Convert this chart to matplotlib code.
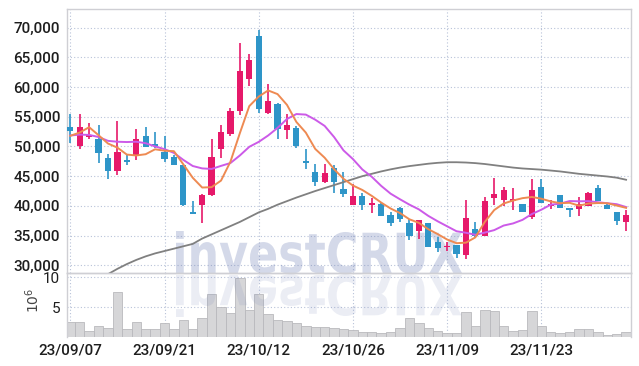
import numpy as np
import matplotlib
matplotlib.use("Agg")
import matplotlib.pyplot as plt
from matplotlib.textpath import TextPath
from matplotlib.patches import PathPatch
from matplotlib.font_manager import FontProperties
from matplotlib.transforms import Affine2D, IdentityTransform
from matplotlib.ticker import FuncFormatter

plt.rcParams["font.family"] = ["Roboto", "DejaVu Sans"]

# trading days 23/09/07 .. 23/12/06 (index axis, holidays skipped)
tick_pos = [0, 10, 20, 30, 40, 50]
tick_labels = ["23/09/07", "23/09/21", "23/10/12", "23/10/26", "23/11/09", "23/11/23"]

opens = [53200, 50050, 51600, 51200, 48000, 45850, 47650, 48600, 51700, 50500,
         49150, 48200, 46800, 39050, 40100, 41900, 49600, 52100, 55900, 61300,
         68600, 55700, 57200, 52850, 53150, 47500, 45700, 43950, 46400, 42850,
         40200, 41650, 40200, 40250, 38450, 39600, 37200, 35750, 37150, 34000,
         33000, 33350, 31650, 36050, 34900, 41350, 40950, 40800, 40350, 38150,
         43250, 39900, 41750, 39650, 39500, 39950, 43050, 40200, 39000, 37300]
highs = [55500, 55450, 54000, 53600, 48700, 54350, 48650, 52900, 53350, 52400,
         51800, 48650, 46900, 40800, 42000, 51250, 53650, 56450, 67350, 65650,
         69600, 60500, 57350, 55500, 53500, 49600, 47000, 47000, 46800, 45700,
         43650, 42100, 41400, 40700, 38900, 39850, 37850, 37600, 37200, 34750,
         33950, 33400, 41050, 37300, 41500, 44750, 43100, 43050, 40400, 44450,
         44450, 41000, 41800, 39700, 41450, 42300, 43500, 40250, 39000, 39300]
lows = [50600, 49650, 51200, 47300, 44600, 45200, 46800, 47750, 49900, 49750,
        47450, 46850, 40050, 38550, 37050, 41650, 48050, 51700, 55300, 60200,
        55600, 55500, 51300, 51200, 49800, 46250, 43350, 43900, 42100, 41450,
        40150, 39300, 38750, 38250, 36600, 37300, 34300, 34400, 33000, 32200,
        32400, 31200, 31000, 34650, 34850, 40100, 39950, 39250, 39000, 37850,
        40450, 39550, 39600, 38200, 38350, 39900, 40750, 39450, 36850, 35800]
closes = [52600, 53200, 51950, 48900, 45850, 49150, 47350, 51200, 49950, 50000,
          47950, 46950, 40100, 38650, 41800, 48250, 52500, 56000, 62700, 64550,
          56250, 57700, 52900, 53650, 50150, 47300, 43950, 45500, 44000, 42050,
          41650, 40200, 40550, 38350, 37050, 37800, 34950, 37550, 33050, 32900,
          33250, 31850, 38000, 34900, 40800, 41950, 42650, 41100, 39050, 42750,
          40500, 40350, 39650, 39350, 40350, 42250, 40800, 39500, 37400, 38400]

ma5 = [51800, 52350, 53250, 51900, 50500, 49810, 48640, 48490, 48700, 49530,
       49290, 49210, 46990, 44730, 43090, 43150, 44260, 47440, 52250, 56800,
       58400, 59440, 58820, 57010, 54130, 52340, 49590, 48110, 46180, 44560,
       43430, 42680, 41690, 40560, 39560, 38790, 37740, 37140, 36080, 35250,
       34340, 33720, 33810, 34700, 37300, 39300, 40400, 40900, 41300, 41500,
       41210, 40750, 40460, 40520, 40040, 40390, 40480, 40450, 40060, 39670]
ma10 = [51850, 52000, 51950, 51600, 50950, 50800, 50750, 50800, 50550, 50015,
        49550, 48925, 47740, 46715, 46310, 46220, 46735, 47215, 48490, 49945,
        50775, 51850, 53130, 54630, 55465, 55370, 54515, 53465, 51595, 49345,
        47885, 46135, 44900, 43370, 42060, 41110, 40210, 39415, 38320, 37405,
        36565, 35730, 35475, 35130, 35505, 35920, 36690, 37045, 37645, 38630,
        39355, 40205, 40370, 40815, 40770, 40800, 40615, 40450, 40285, 39805]
ma_long = [np.nan, np.nan, np.nan, np.nan, 28500, 29400, 30200, 30900, 31500, 32000,
           32400, 32800, 33200, 33600, 34500, 35200, 35900, 36600, 37300, 38100,
           38900, 39500, 40200, 40800, 41400, 41950, 42500, 43000, 43500, 44000,
           44500, 45000, 45400, 45800, 46150, 46450, 46700, 46900, 47100, 47250,
           47350, 47350, 47300, 47200, 47050, 46850, 46650, 46450, 46300, 46200,
           46100, 45950, 45800, 45600, 45400, 45250, 45100, 44950, 44750, 44400]
volume = [2.45, 2.55, 0.95, 1.8, 1.5, 7.45, 1.3, 2.45, 1.3, 1.3,
          2.3, 1.3, 2.8, 1.3, 3.1, 7.1, 4.95, 3.95, 9.8, 4.45,
          7.1, 3.8, 2.8, 2.65, 2.3, 1.8, 1.65, 1.65, 1.5, 1.3,
          1.15, 0.8, 0.8, 0.6, 0.8, 1.5, 3.1, 2.3, 1.5, 1.0,
          0.6, 0.6, 4.2, 1.9, 4.45, 4.3, 1.8, 1.0, 1.15, 4.3,
          1.9, 0.8, 0.6, 0.8, 1.3, 1.3, 0.8, 0.3, 0.45, 0.8]

UP, DOWN = "#e6196a", "#2e95c8"
GRID = "#b8c2d8"
SPINE = "#cfcfd4"
TXT = "#1e1e1e"

idx = np.arange(len(closes))
o, h, l, c = map(np.array, (opens, highs, lows, closes))
cols = np.where(c >= o, UP, DOWN)

fig = plt.figure(figsize=(6.39, 3.66), dpi=100)
W, H = 639, 366
ax = fig.add_axes([67 / W, 1 - 273 / H, (631 - 67) / W, (273 - 9) / H])
axv = fig.add_axes([67 / W, 1 - 337 / H, (631 - 67) / W, (337 - 273) / H], sharex=ax)
axv.set_facecolor("none")

# candles
ax.vlines(idx, l, h, colors=cols, linewidth=1.2, zorder=3)
body = np.maximum(np.abs(c - o), 120)
ax.bar(idx, body, bottom=np.minimum(o, c), width=0.66, color=cols, zorder=4)

ax.plot(idx, ma_long, color="#808080", lw=1.3, zorder=5)
ax.plot(idx, ma10, color="#cc5ae8", lw=1.4, zorder=5)
ax.plot(idx, ma5, color="#ee8a52", lw=1.4, zorder=5)

ax.set_xlim(-0.35, 59.52)
ax.set_ylim(28700, 73150)
ax.set_yticks(range(30000, 70001, 5000))
ax.yaxis.set_major_formatter(FuncFormatter(lambda v, p: f"{int(v):,}"))
ax.tick_params(axis="x", labelbottom=False, length=0)
ax.tick_params(axis="y", length=0, pad=5, labelsize=11, labelcolor=TXT)
for t in ax.get_yticklabels():
    t.set_fontweight("medium")

axv.bar(idx, volume, width=1.0, color="#d6d6d8", edgecolor="#b9b9bd", linewidth=0.6, zorder=2)
axv.set_ylim(0, 10.67)
axv.set_yticks([5, 10])
axv.set_xticks(tick_pos)
axv.set_xticklabels(tick_labels, fontweight="medium")
axv.tick_params(length=0, labelsize=11, labelcolor=TXT)
axv.tick_params(axis="x", pad=5)
axv.tick_params(axis="y", pad=5)

for a in (ax, axv):
    a.grid(True, color=GRID, linestyle=(0, (1, 2)), linewidth=0.8)
    a.set_axisbelow(True)
    for s in a.spines.values():
        s.set_color(SPINE)
        s.set_linewidth(1.0)
axv.spines["bottom"].set_visible(False)

fig.text(33 / W, 1 - 300 / H, r"$10^6$", rotation=90, ha="center", va="center",
         fontsize=10, color="#444444")

# watermark with reflection (display pixel coordinates)
tp = TextPath((0, 0), "investCRUX", size=100,
              prop=FontProperties(family="DejaVu Sans", weight="bold"))
ext = tp.get_extents()
sx = (462 - 176) / ext.width
sy = 42 / ext.y1
base = H - 273
main_tr = Affine2D().translate(-ext.x0, 0).scale(sx, sy).translate(176, base)
refl_tr = Affine2D().translate(-ext.x0, 0).scale(sx, -sy).translate(176, base - 2)
wm = PathPatch(main_tr.transform_path(tp), facecolor="#7383b8", edgecolor="none",
               alpha=0.3, transform=IdentityTransform(), zorder=2)
wm.set_clip_on(False)
ax.add_artist(wm)
wr = PathPatch(refl_tr.transform_path(tp), facecolor="#7383b8", edgecolor="none",
               alpha=0.14, transform=IdentityTransform(), zorder=3)
wr.set_clip_on(False)
axv.add_artist(wr)

fig.savefig("out.png", dpi=100, facecolor="white")
